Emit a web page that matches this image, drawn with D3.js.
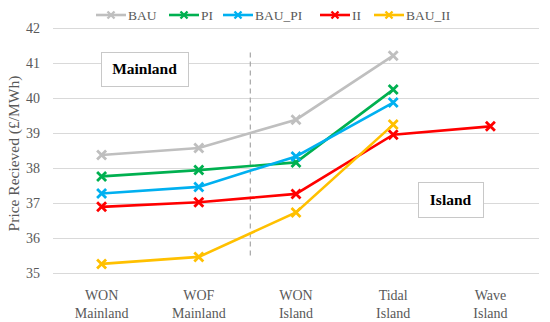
<!DOCTYPE html>
<html>
<head>
<meta charset="utf-8">
<script src="https://cdn.jsdelivr.net/npm/d3@7"></script>
<style>
  body { margin: 0; background: #fff; }
  text { font-family: "Liberation Serif", "Times New Roman", serif; }
</style>
</head>
<body>
<div id="chart"></div>
<script>
// categorias e séries
const categories = ["WON Mainland", "WOF Mainland", "WON Island", "Tidal Island", "Wave Island"]
const seriesNames = ["BAU", "PI", "BAU_PI", "II", "BAU_II"]
const bau = [38.37, 38.57, 39.38, 41.21, null]
const pi = [37.76, 37.94, 38.16, 40.24, null]
const bauPi = [37.27, 37.46, 38.33, 39.87, null]
const ii = [36.89, 37.02, 37.26, 38.95, 39.19]
const bauIi = [35.26, 35.46, 36.73, 39.24, null]
const yTicks = [35, 36, 37, 38, 39, 40, 41, 42]

const colors = ["#BFBFBF", "#00B050", "#00B0F0", "#FF0000", "#FFC000"]
const values = [bau, pi, bauPi, ii, bauIi]

const W = 550, H = 322
const MARGIN = { LEFT: 53, RIGHT: 11, TOP: 28, BOTTOM: 49 }

const svg = d3.select("#chart").append("svg")
  .attr("width", W)
  .attr("height", H)

const x = d3.scaleBand().domain(categories).range([MARGIN.LEFT, W - MARGIN.RIGHT])
const y = d3.scaleLinear().domain([35, 42]).range([H - MARGIN.BOTTOM, MARGIN.TOP])
const cx = c => x(c) + x.bandwidth() / 2

// grade horizontal
svg.append("g")
  .selectAll("line")
  .data(yTicks)
  .join("line")
  .attr("x1", MARGIN.LEFT)
  .attr("x2", W - MARGIN.RIGHT)
  .attr("y1", d => Math.round(y(d)) + 0.5)
  .attr("y2", d => Math.round(y(d)) + 0.5)
  .attr("stroke", "#D9D9D9")
  .attr("stroke-width", 1.2)

// eixo y (só os rótulos)
const yAxis = svg.append("g")
  .attr("transform", `translate(${MARGIN.LEFT}, 0)`)
  .call(d3.axisLeft(y).tickValues(yTicks).tickFormat(d3.format("d")).tickSize(0).tickPadding(13))
yAxis.select(".domain").remove()
yAxis.selectAll("text")
  .attr("fill", "#595959")
  .style("font-size", "14px")
  .style("font-family", "Liberation Serif, serif")

// eixo x com duas linhas
const xAxis = svg.append("g")
  .attr("transform", `translate(0, ${H - MARGIN.BOTTOM})`)
  .call(d3.axisBottom(x).tickSize(0).tickFormat(""))
xAxis.select(".domain").remove()
xAxis.selectAll(".tick").each(function (d) {
  const parts = d.split(" ")
  const t = d3.select(this).append("text")
    .attr("fill", "#595959")
    .attr("text-anchor", "middle")
    .style("font-size", "14px")
    .style("font-family", "Liberation Serif, serif")
  parts.forEach((p, i) => {
    t.append("tspan").attr("x", 0).attr("y", 27 + i * 18).text(p)
  })
})

// título do eixo y
svg.append("text")
  .attr("transform", `translate(19, ${(y(35) + y(42)) / 2 + 3}) rotate(-90)`)
  .attr("text-anchor", "middle")
  .attr("fill", "#595959")
  .style("font-size", "15.5px")
  .text("Price Recieved (£/MWh)")

// linha tracejada separando Mainland e Island
const sepX = cx("WOF Mainland") + x.bandwidth() * 0.53
svg.append("line")
  .attr("x1", sepX).attr("x2", sepX)
  .attr("y1", y(41.3)).attr("y2", y(35.4))
  .attr("stroke", "#A6A6A6")
  .attr("stroke-width", 1.2)
  .attr("stroke-dasharray", "5,4")

// caixas de texto
function labelBox(x0, y0, w, h, label) {
  svg.append("rect")
    .attr("x", x0 + 0.5).attr("y", y0 + 0.5)
    .attr("width", w).attr("height", h)
    .attr("fill", "#fff")
    .attr("stroke", "#C8C8C8")
  svg.append("text")
    .attr("x", x0 + w / 2).attr("y", y0 + h / 2 + 5)
    .attr("text-anchor", "middle")
    .attr("font-weight", "bold")
    .style("font-size", "15.5px")
    .attr("fill", "#000")
    .text(label)
}
labelBox(101, 52, 87, 34, "Mainland")
labelBox(418, 182, 65, 35, "Island")

// marcador em X
function cross(g, px, py, r, color, sw) {
  g.append("path")
    .attr("d", `M${px - r},${py - r}L${px + r},${py + r}M${px - r},${py + r}L${px + r},${py - r}`)
    .attr("stroke", color)
    .attr("stroke-width", sw)
    .attr("fill", "none")
}

const line = d3.line()
  .defined(d => d.v !== null)
  .x(d => cx(d.c))
  .y(d => y(d.v))

const series = seriesNames.map((name, i) => ({
  name,
  color: colors[i],
  points: categories.map((c, j) => ({ c, v: values[i][j] }))
}))

series.forEach(s => {
  const g = svg.append("g")
  g.append("path")
    .attr("d", line(s.points))
    .attr("fill", "none")
    .attr("stroke", s.color)
    .attr("stroke-width", 2.6)
  s.points.filter(p => p.v !== null).forEach(p => {
    cross(g, cx(p.c), y(p.v), 4.5, s.color, 2.8)
  })
})

// legenda
const legendX = [96, 169, 223, 320, 374]
const legend = svg.append("g")
series.forEach((s, i) => {
  const lx = legendX[i], ly = 15
  legend.append("line")
    .attr("x1", lx).attr("x2", lx + 30)
    .attr("y1", ly).attr("y2", ly)
    .attr("stroke", s.color)
    .attr("stroke-width", 2.6)
  cross(legend, lx + 15, ly, 3.5, s.color, 2.4)
  legend.append("text")
    .attr("x", lx + 32).attr("y", ly + 4.5)
    .attr("fill", "#595959")
    .style("font-size", "13.5px")
    .text(s.name)
})
</script>
</body>
</html>
